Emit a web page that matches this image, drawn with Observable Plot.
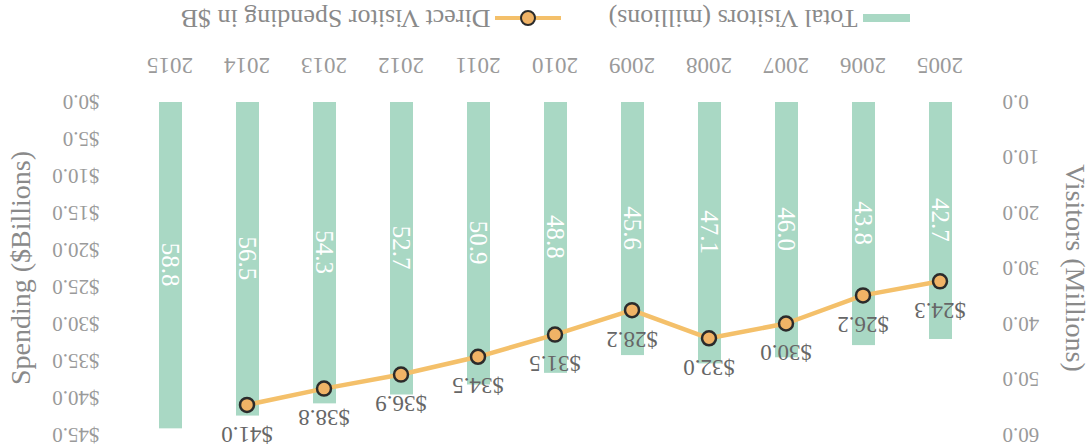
<!DOCTYPE html>
<html>
<head>
<meta charset="utf-8">
<script src="https://cdn.jsdelivr.net/npm/d3@7"></script>
<script src="https://cdn.jsdelivr.net/npm/@observablehq/plot@0.6"></script>
<style>
  html, body { margin: 0; padding: 0; background: #fff; }
  #page {
    width: 1091px; height: 448px; position: relative; overflow: hidden;
    transform: rotate(180deg); transform-origin: 50% 50%;
    font-family: "Liberation Serif", serif;
  }
  #chart svg, #chart svg text { font-family: "Liberation Serif", serif !important; }
  #legend {
    height: 48px; box-sizing: border-box; padding-top: 12px;
    display: flex; align-items: center; justify-content: center;
    color: #8a8a8a; font-size: 26px;
  }
  .item { display: flex; align-items: center; }
  .swatch { width: 47px; height: 8px; background: #a9d8c4; margin-right: 6px; }
  .lineswatch { position: relative; width: 66px; height: 18px; margin-right: 4px; margin-left: 48px; }
  .lineswatch .ln { position: absolute; left: 0; right: 0; top: 7px; height: 4px; background: #f4c06a; }
  .lineswatch .pt { position: absolute; left: 25px; top: 1px; width: 12px; height: 12px; border-radius: 50%;
    background: #f0b366; border: 2.5px solid #2b2b2b; }
</style>
</head>
<body>
<div id="page"><div id="chart"></div>
  <div id="legend">
    <div class="item"><div class="swatch"></div><span>Total Visitors (millions)</span></div>
    <div class="item"><div class="lineswatch"><div class="ln"></div><div class="pt"></div></div><span>Direct Visitor Spending in $B</span></div>
  </div>
</div>
<script>
const years = ["2005","2006","2007","2008","2009","2010","2011","2012","2013","2014","2015"];
const visitors = [42.7, 43.8, 46.0, 47.1, 45.6, 48.8, 50.9, 52.7, 54.3, 56.5, 58.8];
const spending = [24.3, 26.2, 30.0, 32.0, 28.2, 31.5, 34.5, 36.9, 38.8, 41.0, null];
const visitorTicks = [0, 10, 20, 30, 40, 50, 60];
const spendingTicks = [0, 5, 10, 15, 20, 25, 30, 35, 40, 45];

const visitorMax = 60, spendMax = 45;
const toV = s => s * visitorMax / spendMax;

const data = years.map((y, i) => ({year: y, visitors: visitors[i], spending: spending[i]}));
const spendData = data.filter(d => d.spending != null);

const chart = Plot.plot({
  width: 1091,
  height: 400,
  marginTop: 13,
  marginBottom: 54,
  marginLeft: 95,
  marginRight: 114,
  style: {fontSize: "22px", color: "#9a9a9a", background: "transparent"},
  x: {type: "band", domain: years, paddingInner: 0.7, paddingOuter: 0.577},
  y: {domain: [0, visitorMax]},
  marks: [
    Plot.barY(data, {x: "year", y: "visitors", fill: "#a9d8c4"}),
    Plot.text(data, {x: "year", y: d => d.visitors / 2, text: d => d.visitors.toFixed(1), rotate: -90, fill: "white", fontSize: 25}),
    Plot.line(spendData, {x: "year", y: d => toV(d.spending), stroke: "#f4c06a", strokeWidth: 4.5}),
    Plot.dot(spendData, {x: "year", y: d => toV(d.spending), r: 7, fill: "#f0b366", stroke: "#2b2b2b", strokeWidth: 2.5}),
    Plot.text(spendData, {x: "year", y: d => toV(d.spending), dy: -29, text: d => "$" + d.spending.toFixed(1), fill: "#666", fontSize: 23}),
    Plot.axisX({tickSize: 0, tickPadding: 27, label: null, fontSize: 23}),
    Plot.axisY({anchor: "left", ticks: visitorTicks, tickFormat: d => d.toFixed(1), tickSize: 0, tickPadding: 7, label: null, fontSize: 21}),
    Plot.axisY({anchor: "right", ticks: spendingTicks.map(toV), tickFormat: d => "$" + (d * spendMax / visitorMax).toFixed(1), tickSize: 0, tickPadding: 14, label: null, fontSize: 21}),
    Plot.text(["Visitors (Millions)"], {frameAnchor: "left", dx: -79, rotate: -90, textAnchor: "middle", fontSize: 28, fill: "#8a8a8a"}),
    Plot.text(["Spending ($Billions)"], {frameAnchor: "right", dx: 92, rotate: 90, textAnchor: "middle", fontSize: 28, fill: "#8a8a8a"})
  ]
});
document.getElementById("chart").appendChild(chart);
</script>
</body>
</html>
